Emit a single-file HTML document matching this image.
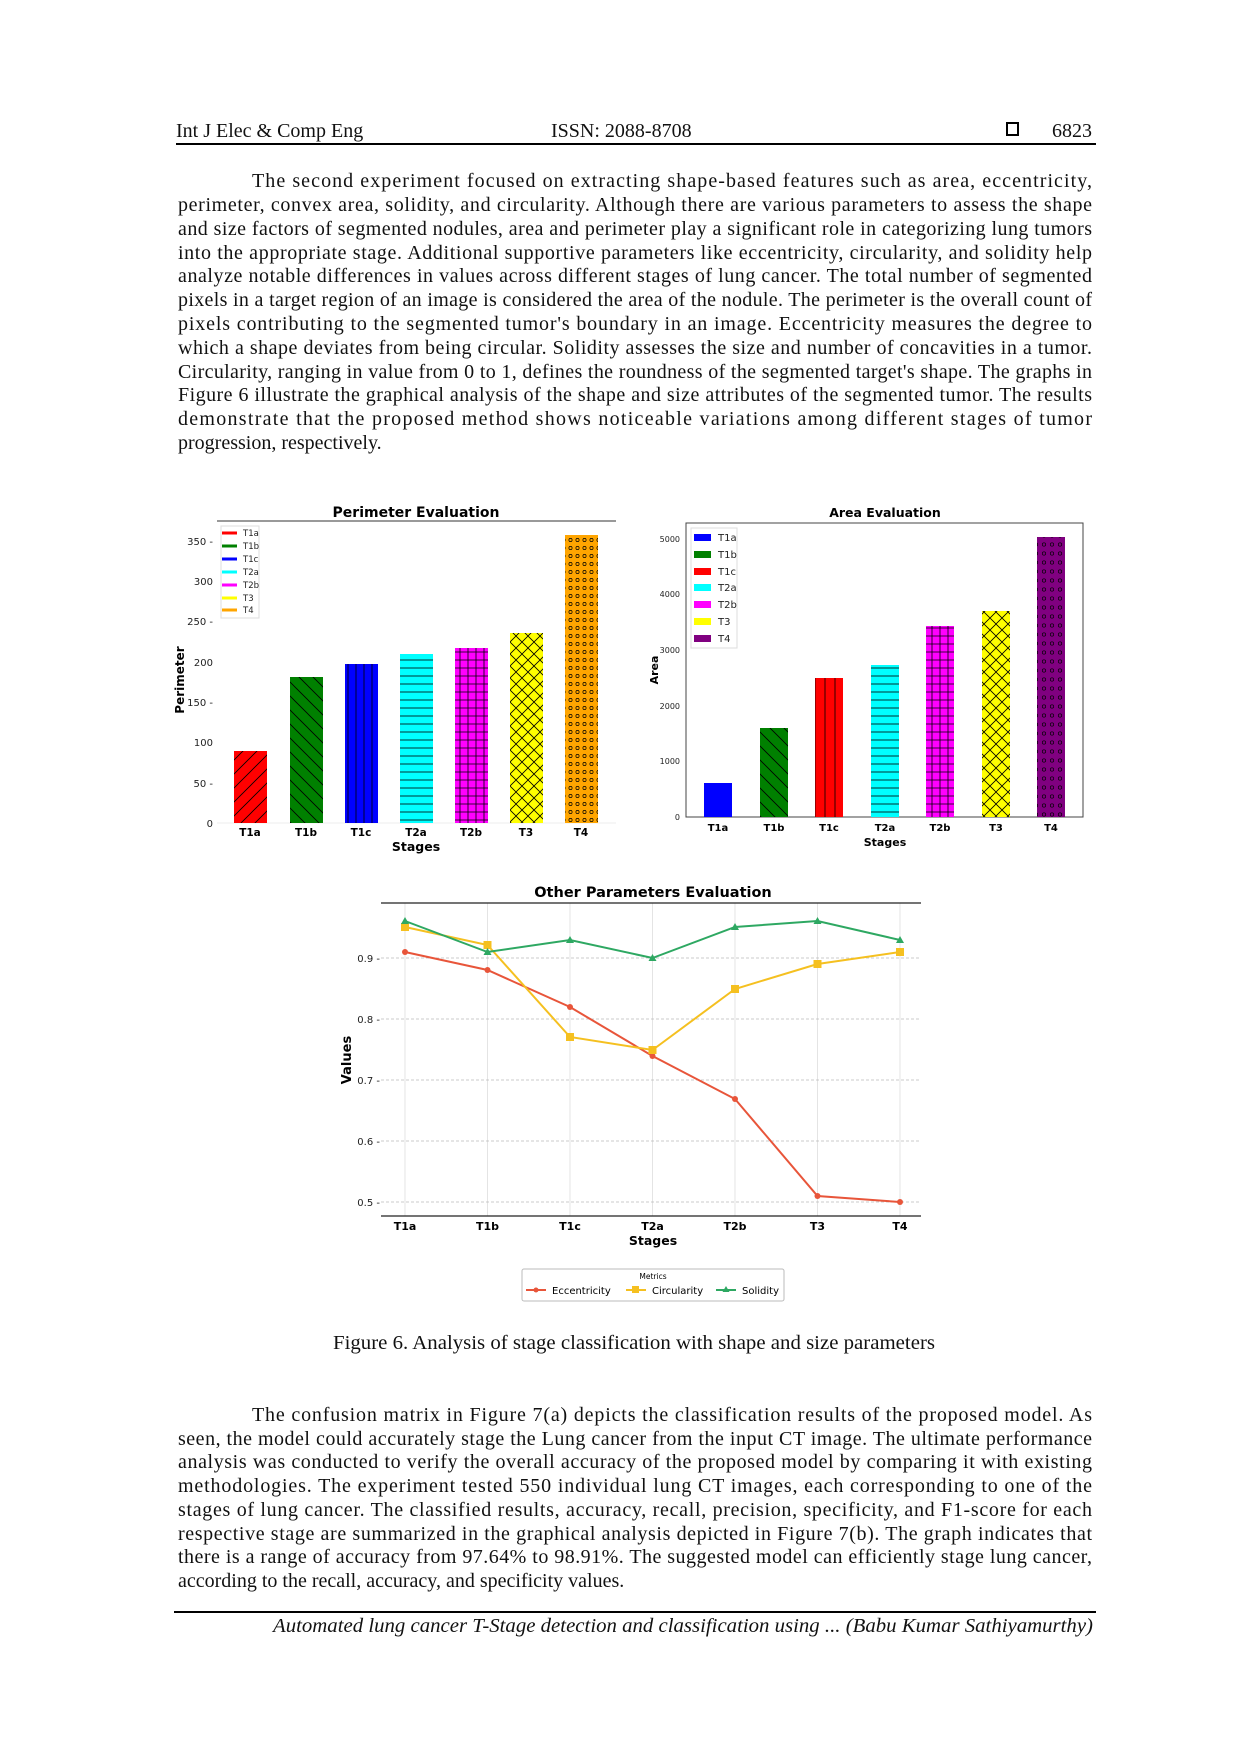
<!DOCTYPE html>
<html><head><meta charset="utf-8"><style>
html,body{margin:0;padding:0;background:#fff;}
svg{display:block;}
.t{font-family:"Liberation Serif",serif;font-size:20px;fill:#111;}
.s{font-family:"DejaVu Sans","Liberation Sans",sans-serif;}
</style></head><body>
<svg width="1240" height="1754" viewBox="0 0 1240 1754" xmlns="http://www.w3.org/2000/svg">
<defs>
<pattern id="pFwd" width="14" height="14" patternUnits="userSpaceOnUse"><rect width="14" height="14" fill="red"/><path d="M-2,16 L16,-2 M-9,9 L9,-9 M5,23 L23,5" stroke="#000" stroke-width="0.8"/></pattern>
<pattern id="pBack" width="14" height="14" patternUnits="userSpaceOnUse"><rect width="14" height="14" fill="green"/><path d="M-2,-2 L16,16 M5,-9 L23,9 M-9,5 L9,23" stroke="#000" stroke-width="0.8"/></pattern>
<pattern id="pVert" width="8" height="10" patternUnits="userSpaceOnUse"><rect width="8" height="10" fill="blue"/><path d="M4,0 V10" stroke="#000" stroke-width="0.8"/></pattern>
<pattern id="pVertR" width="10" height="10" patternUnits="userSpaceOnUse"><rect width="10" height="10" fill="red"/><path d="M5,0 V10" stroke="#000" stroke-width="0.8"/></pattern>
<pattern id="pHor" width="10" height="8" patternUnits="userSpaceOnUse"><rect width="10" height="8" fill="cyan"/><path d="M0,4 H10" stroke="#000" stroke-width="0.8"/></pattern>
<pattern id="pGrid" width="8" height="8" patternUnits="userSpaceOnUse"><rect width="8" height="8" fill="magenta"/><path d="M0,4 H8 M4,0 V8" stroke="#000" stroke-width="0.8"/></pattern>
<pattern id="pX" width="12" height="12" patternUnits="userSpaceOnUse"><rect width="12" height="12" fill="yellow"/><path d="M0,0 L12,12 M12,0 L0,12" stroke="#000" stroke-width="0.8"/></pattern>
<pattern id="pDotO" width="7" height="8" patternUnits="userSpaceOnUse"><rect width="7" height="8" fill="orange"/><circle cx="3.5" cy="4" r="1.6" fill="none" stroke="#000" stroke-width="0.7"/></pattern>
<pattern id="pDotP" width="8" height="9" patternUnits="userSpaceOnUse"><rect width="8" height="9" fill="purple"/><circle cx="4" cy="4.5" r="1.7" fill="none" stroke="#000" stroke-width="0.7"/></pattern>
</defs>

<!-- header -->
<text class="t" x="176" y="137">Int J Elec &amp; Comp Eng</text>
<text class="t" x="551" y="137">ISSN: 2088-8708</text>
<rect x="1007" y="123" width="11" height="12" fill="none" stroke="#000" stroke-width="2"/>
<text class="t" x="1092" y="137" text-anchor="end">6823</text>
<rect x="176" y="143" width="920" height="2" fill="#000"/>

<!-- paragraph 1 -->
<g class="t">
<text x="252" y="187" textLength="840" lengthAdjust="spacing">The second experiment focused on extracting shape-based features such as area, eccentricity,</text>
<text x="178" y="211" textLength="914" lengthAdjust="spacing">perimeter, convex area, solidity, and circularity. Although there are various parameters to assess the shape</text>
<text x="178" y="235" textLength="914" lengthAdjust="spacing">and size factors of segmented nodules, area and perimeter play a significant role in categorizing lung tumors</text>
<text x="178" y="259" textLength="914" lengthAdjust="spacing">into the appropriate stage. Additional supportive parameters like eccentricity, circularity, and solidity help</text>
<text x="178" y="282" textLength="914" lengthAdjust="spacing">analyze notable differences in values across different stages of lung cancer. The total number of segmented</text>
<text x="178" y="306" textLength="914" lengthAdjust="spacing">pixels in a target region of an image is considered the area of the nodule. The perimeter is the overall count of</text>
<text x="178" y="330" textLength="914" lengthAdjust="spacing">pixels contributing to the segmented tumor's boundary in an image. Eccentricity measures the degree to</text>
<text x="178" y="354" textLength="914" lengthAdjust="spacing">which a shape deviates from being circular. Solidity assesses the size and number of concavities in a tumor.</text>
<text x="178" y="378" textLength="914" lengthAdjust="spacing">Circularity, ranging in value from 0 to 1, defines the roundness of the segmented target's shape. The graphs in</text>
<text x="178" y="401" textLength="914" lengthAdjust="spacing">Figure 6 illustrate the graphical analysis of the shape and size attributes of the segmented tumor. The results</text>
<text x="178" y="425" textLength="914" lengthAdjust="spacing">demonstrate that the proposed method shows noticeable variations among different stages of tumor</text>
<text x="178" y="449">progression, respectively.</text>
</g>

<!-- Perimeter chart -->
<g class="s">
<text x="416" y="517" text-anchor="middle" font-size="14" font-weight="bold">Perimeter Evaluation</text>
<line x1="217" y1="521" x2="616" y2="521" stroke="#333" stroke-width="1"/>
<line x1="217" y1="823" x2="616" y2="823" stroke="#eee" stroke-width="1"/>
<g font-size="10" fill="#222" text-anchor="end">
<text x="213" y="827">0</text><text x="213" y="787">50 -</text><text x="213" y="746">100</text><text x="213" y="706">150 -</text>
<text x="213" y="666">200</text><text x="213" y="625">250 -</text><text x="213" y="585">300</text><text x="213" y="545">350 -</text>
</g>
<rect x="234" y="751" width="33" height="72" fill="url(#pFwd)"/>
<rect x="290" y="677" width="33" height="146" fill="url(#pBack)"/>
<rect x="345" y="664" width="33" height="159" fill="url(#pVert)"/>
<rect x="400" y="654" width="33" height="169" fill="url(#pHor)"/>
<rect x="455" y="648" width="33" height="175" fill="url(#pGrid)"/>
<rect x="510" y="633" width="33" height="190" fill="url(#pX)"/>
<rect x="565" y="535" width="33" height="288" fill="url(#pDotO)"/>
<g font-size="10.5" font-weight="bold" text-anchor="middle">
<text x="250" y="836">T1a</text><text x="306" y="836">T1b</text><text x="361" y="836">T1c</text><text x="416" y="836">T2a</text>
<text x="471" y="836">T2b</text><text x="526" y="836">T3</text><text x="581" y="836">T4</text>
</g>
<text x="416" y="851" text-anchor="middle" font-size="12.5" font-weight="bold">Stages</text>
<text transform="translate(184,680) rotate(-90)" text-anchor="middle" font-size="12" font-weight="bold">Perimeter</text>
<rect x="221" y="526" width="38" height="92" fill="#fff" stroke="#ddd"/>
<g stroke-width="3">
<line x1="222" y1="533" x2="237" y2="533" stroke="red"/><line x1="222" y1="546" x2="237" y2="546" stroke="green"/>
<line x1="222" y1="559" x2="237" y2="559" stroke="blue"/><line x1="222" y1="572" x2="237" y2="572" stroke="cyan"/>
<line x1="222" y1="585" x2="237" y2="585" stroke="magenta"/><line x1="222" y1="598" x2="237" y2="598" stroke="yellow"/>
<line x1="222" y1="610" x2="237" y2="610" stroke="orange"/>
</g>
<g font-size="8.5" fill="#222">
<text x="243" y="536">T1a</text><text x="243" y="549">T1b</text><text x="243" y="562">T1c</text><text x="243" y="575">T2a</text>
<text x="243" y="588">T2b</text><text x="243" y="601">T3</text><text x="243" y="613">T4</text>
</g>
</g>

<!-- Area chart -->
<g class="s">
<text x="885" y="517" text-anchor="middle" font-size="12.5" font-weight="bold">Area Evaluation</text>
<rect x="686" y="523" width="397" height="294" fill="none" stroke="#444" stroke-width="1"/>
<g font-size="8" fill="#222" text-anchor="end">
<text x="680" y="820">0</text><text x="680" y="764">1000</text><text x="680" y="709">2000</text>
<text x="680" y="653">3000</text><text x="680" y="597">4000</text><text x="680" y="542">5000</text>
</g>
<rect x="704" y="783" width="28" height="34" fill="blue"/>
<rect x="760" y="728" width="28" height="89" fill="url(#pBack)"/>
<rect x="815" y="678" width="28" height="139" fill="url(#pVertR)"/>
<rect x="871" y="665" width="28" height="152" fill="url(#pHor)"/>
<rect x="926" y="626" width="28" height="191" fill="url(#pGrid)"/>
<rect x="982" y="611" width="28" height="206" fill="url(#pX)"/>
<rect x="1037" y="537" width="28" height="280" fill="url(#pDotP)"/>
<g font-size="10" font-weight="bold" text-anchor="middle">
<text x="718" y="831">T1a</text><text x="774" y="831">T1b</text><text x="829" y="831">T1c</text><text x="885" y="831">T2a</text>
<text x="940" y="831">T2b</text><text x="996" y="831">T3</text><text x="1051" y="831">T4</text>
</g>
<text x="885" y="846" text-anchor="middle" font-size="11" font-weight="bold">Stages</text>
<text transform="translate(658,670) rotate(-90)" text-anchor="middle" font-size="11" font-weight="bold">Area</text>
<rect x="691" y="528" width="46" height="120" fill="#fff" stroke="#ddd"/>
<rect x="694" y="534" width="17" height="7" fill="blue"/>
<rect x="694" y="551" width="17" height="7" fill="green"/>
<rect x="694" y="568" width="17" height="7" fill="red"/>
<rect x="694" y="584" width="17" height="7" fill="cyan"/>
<rect x="694" y="601" width="17" height="7" fill="magenta"/>
<rect x="694" y="618" width="17" height="7" fill="yellow"/>
<rect x="694" y="635" width="17" height="7" fill="purple"/>
<g font-size="10" fill="#222">
<text x="718" y="541">T1a</text><text x="718" y="558">T1b</text><text x="718" y="575">T1c</text><text x="718" y="591">T2a</text>
<text x="718" y="608">T2b</text><text x="718" y="625">T3</text><text x="718" y="642">T4</text>
</g>
</g>

<!-- Other parameters chart -->
<g class="s">
<text x="653" y="897" text-anchor="middle" font-size="14.5" font-weight="bold">Other Parameters Evaluation</text>
<g stroke="#ddd" stroke-width="0.8">
<line x1="405" y1="903" x2="405" y2="1216"/><line x1="487.5" y1="903" x2="487.5" y2="1216"/><line x1="570" y1="903" x2="570" y2="1216"/>
<line x1="652.5" y1="903" x2="652.5" y2="1216"/><line x1="735" y1="903" x2="735" y2="1216"/><line x1="817.5" y1="903" x2="817.5" y2="1216"/><line x1="900" y1="903" x2="900" y2="1216"/>
</g>
<g stroke="#bbb" stroke-width="0.8" stroke-dasharray="3,2">
<line x1="381" y1="958" x2="921" y2="958"/><line x1="381" y1="1019" x2="921" y2="1019"/><line x1="381" y1="1080" x2="921" y2="1080"/>
<line x1="381" y1="1141" x2="921" y2="1141"/><line x1="381" y1="1202" x2="921" y2="1202"/>
</g>
<line x1="381" y1="903" x2="921" y2="903" stroke="#222" stroke-width="1.2"/>
<line x1="381" y1="1216" x2="921" y2="1216" stroke="#222" stroke-width="1.2"/>
<g font-size="10" fill="#222" text-anchor="end">
<text x="380" y="962">0.9 -</text><text x="380" y="1023">0.8 -</text><text x="380" y="1084">0.7 -</text><text x="380" y="1145">0.6 -</text><text x="380" y="1206">0.5 -</text>
</g>
<polyline points="405,952 487.5,970 570,1007 652.5,1056 735,1099 817.5,1196 900,1202" fill="none" stroke="#e8553a" stroke-width="2"/>
<polyline points="405,927 487.5,945 570,1037 652.5,1050 735,989 817.5,964 900,952" fill="none" stroke="#f5c020" stroke-width="2"/>
<polyline points="405,921 487.5,952 570,940 652.5,958 735,927 817.5,921 900,940" fill="none" stroke="#2ea862" stroke-width="2"/>
<g fill="#e8553a"><circle cx="405" cy="952" r="3"/><circle cx="487.5" cy="970" r="3"/><circle cx="570" cy="1007" r="3"/><circle cx="652.5" cy="1056" r="3"/><circle cx="735" cy="1099" r="3"/><circle cx="817.5" cy="1196" r="3"/><circle cx="900" cy="1202" r="3"/></g>
<g fill="#f5c020"><rect x="401" y="923" width="8" height="8"/><rect x="483.5" y="941" width="8" height="8"/><rect x="566" y="1033" width="8" height="8"/><rect x="648.5" y="1046" width="8" height="8"/><rect x="731" y="985" width="8" height="8"/><rect x="813.5" y="960" width="8" height="8"/><rect x="896" y="948" width="8" height="8"/></g>
<g fill="#2ea862"><path d="M405,917 l4,7 h-8z"/><path d="M487.5,948 l4,7 h-8z"/><path d="M570,936 l4,7 h-8z"/><path d="M652.5,954 l4,7 h-8z"/><path d="M735,923 l4,7 h-8z"/><path d="M817.5,917 l4,7 h-8z"/><path d="M900,936 l4,7 h-8z"/></g>
<g font-size="11" font-weight="bold" text-anchor="middle">
<text x="405" y="1230">T1a</text><text x="487.5" y="1230">T1b</text><text x="570" y="1230">T1c</text><text x="652.5" y="1230">T2a</text>
<text x="735" y="1230">T2b</text><text x="817.5" y="1230">T3</text><text x="900" y="1230">T4</text>
</g>
<text x="653" y="1245" text-anchor="middle" font-size="12.5" font-weight="bold">Stages</text>
<text transform="translate(351,1060) rotate(-90)" text-anchor="middle" font-size="13" font-weight="bold">Values</text>
<rect x="522" y="1269" width="262" height="32" fill="#fff" stroke="#bbb" rx="2"/>
<text x="653" y="1279" text-anchor="middle" font-size="7.5">Metrics</text>
<line x1="526" y1="1290" x2="546" y2="1290" stroke="#e8553a" stroke-width="2"/><circle cx="536" cy="1290" r="2.5" fill="#e8553a"/>
<text x="552" y="1294" font-size="10">Eccentricity</text>
<line x1="626" y1="1290" x2="646" y2="1290" stroke="#f5c020" stroke-width="2"/><rect x="632" y="1286" width="7" height="7" fill="#f5c020"/>
<text x="652" y="1294" font-size="10">Circularity</text>
<line x1="716" y1="1290" x2="736" y2="1290" stroke="#2ea862" stroke-width="2"/><path d="M726,1286 l3.5,6 h-7z" fill="#2ea862"/>
<text x="742" y="1294" font-size="10">Solidity</text>
</g>

<!-- caption -->
<text class="t" x="634" y="1349" text-anchor="middle" textLength="602" lengthAdjust="spacingAndGlyphs">Figure 6. Analysis of stage classification with shape and size parameters</text>

<!-- paragraph 2 -->
<g class="t">
<text x="252" y="1421" textLength="840" lengthAdjust="spacing">The confusion matrix in Figure 7(a) depicts the classification results of the proposed model. As</text>
<text x="178" y="1445" textLength="914" lengthAdjust="spacing">seen, the model could accurately stage the Lung cancer from the input CT image. The ultimate performance</text>
<text x="178" y="1468" textLength="914" lengthAdjust="spacing">analysis was conducted to verify the overall accuracy of the proposed model by comparing it with existing</text>
<text x="178" y="1492" textLength="914" lengthAdjust="spacing">methodologies. The experiment tested 550 individual lung CT images, each corresponding to one of the</text>
<text x="178" y="1516" textLength="914" lengthAdjust="spacing">stages of lung cancer. The classified results, accuracy, recall, precision, specificity, and F1-score for each</text>
<text x="178" y="1540" textLength="914" lengthAdjust="spacing">respective stage are summarized in the graphical analysis depicted in Figure 7(b). The graph indicates that</text>
<text x="178" y="1563" textLength="914" lengthAdjust="spacing">there is a range of accuracy from 97.64% to 98.91%. The suggested model can efficiently stage lung cancer,</text>
<text x="178" y="1587">according to the recall, accuracy, and specificity values.</text>
</g>

<!-- footer -->
<rect x="174" y="1611" width="922" height="2" fill="#000"/>
<text class="t" x="1093" y="1632" text-anchor="end" font-style="italic" textLength="820" lengthAdjust="spacingAndGlyphs">Automated lung cancer T-Stage detection and classification using ... (Babu Kumar Sathiyamurthy)</text>
</svg>
</body></html>
